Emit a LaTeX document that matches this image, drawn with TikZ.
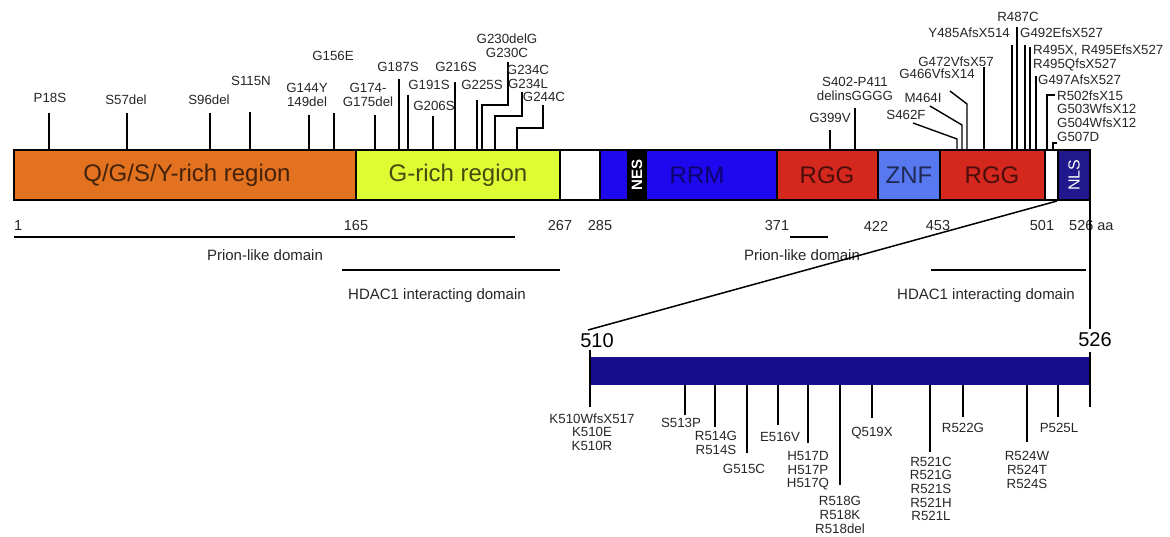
\documentclass[tikz,border=0pt]{standalone}
\usepackage{fontspec}
\setmainfont{Liberation Sans}
\usetikzlibrary{calc}

\definecolor{qgsyorange}{RGB}{226,114,32}
\definecolor{grichyellow}{RGB}{222,252,52}
\definecolor{rrmblue}{RGB}{30,8,238}
\definecolor{rggred}{RGB}{212,40,30}
\definecolor{znfblue}{RGB}{88,120,240}
\definecolor{nlsnavy}{RGB}{32,24,140}
\definecolor{zoomnavy}{RGB}{22,14,138}

\tikzset{
  mut/.style={font=\fontsize{13.3}{13.6}\selectfont, text=black!85, inner sep=0pt, align=center},
  mutline/.style={line width=1.4pt},
  regionlabel/.style={font=\fontsize{24}{26}\selectfont, inner sep=0pt},
  aanum/.style={font=\fontsize{14.5}{16}\selectfont, text=black!85, inner sep=0pt},
  domlabel/.style={font=\fontsize{15}{16}\selectfont, text=black!85, inner sep=0pt},
  domline/.style={line width=2.3pt},
}

\begin{document}
\begin{tikzpicture}[x=1pt,y=-1pt]
	\useasboundingbox (0,0) rectangle (1170,536);

	% main bar
	\fill[qgsyorange] (14,150) rectangle (356,200);
	\fill[grichyellow] (356,150) rectangle (560,200);
	\fill[white] (560,150) rectangle (600,200);
	\fill[rrmblue] (600,150) rectangle (777,200);
	\fill[black] (627,150) rectangle (647,200);
	\fill[rggred] (777,150) rectangle (878,200);
	\fill[znfblue] (878,150) rectangle (940,200);
	\fill[rggred] (940,150) rectangle (1045,200);
	\fill[white] (1045,150) rectangle (1058,200);
	\fill[nlsnavy] (1058,150) rectangle (1090,200);
	\foreach \bx in {356,560,600,777,878,940,1045,1058}
		\draw[line width=1.6pt] (\bx,150) -- (\bx,200);
	\draw[line width=2.6pt] (14,150) rectangle (1090,200);

	\node[regionlabel, text=qgsyorange!30!black] (qgsy) at (187,175) {Q/G/S/Y-rich region};
	\node[regionlabel, text=grichyellow!30!black] (grich) at (458,175) {G-rich region};
	\node[rotate=90, text=white, font=\fontsize{15}{16}\selectfont\bfseries, inner sep=0pt] (nes) at (637,175) {NES};
	\node[regionlabel, text=rrmblue!45!black] (rrm) at (697,175) {RRM};
	\node[regionlabel, text=rggred!35!black] (rgg1) at (827,175) {RGG};
	\node[regionlabel, text=znfblue!35!black] (znf) at (909,175) {ZNF};
	\node[regionlabel, text=rggred!35!black] (rgg2) at (992,175) {RGG};
	\node[rotate=90, text=white, font=\fontsize{16}{17}\selectfont, inner sep=0pt] (nls) at (1074,175) {NLS};

	% residue numbers
	\node[aanum, anchor=west] (n1) at (14,226) {1};
	\node[aanum] (n165) at (356,226) {165};
	\node[aanum] (n267) at (560,226) {267};
	\node[aanum] (n285) at (600,226) {285};
	\node[aanum] (n371) at (777,226) {371};
	\node[aanum] (n422) at (876,226) {422};
	\node[aanum] (n453) at (938,226) {453};
	\node[aanum] (n501) at (1042,226) {501};
	\node[aanum, anchor=west] (n526) at (1069,226) {526 aa};

	% domains
	\draw[domline] (14,237) -- (515,237);
	\node[domlabel] (prion1) at (265,255) {Prion-like domain};
	\draw[domline] (342,270) -- (560,270);
	\node[domlabel] (hdac1) at (437,296) {HDAC1 interacting domain};
	\draw[domline] (790,237) -- (828,237);
	\node[domlabel] (prion2) at (802,255) {Prion-like domain};
	\draw[domline] (931,270) -- (1086,270);
	\node[domlabel] (hdac2) at (986,296) {HDAC1 interacting domain};

	% zoom on the NLS
	\coordinate (zoomL) at (588,330);
	\coordinate (zoomR) at (1090,329);
	\draw[line width=1.5pt] (1057,201) -- (zoomL);
	\draw[line width=1.5pt] (1090,200) -- (zoomR);
	\fill[zoomnavy] (590,357) rectangle (1090,385);
	\node[font=\fontsize{20}{22}\selectfont, inner sep=0pt] (z510) at (597,341) {510};
	\node[font=\fontsize{20}{22}\selectfont, inner sep=0pt] (z526) at (1095,340) {526};
	\draw[mutline] (590,350) -- (590,407);
	\draw[mutline] (1090,352) -- (1090,407);

	% mutations, N-terminal half
	\node[mut] (p18s) at (50,98) {P18S};
	\draw[mutline] (49,150) -- (49,113);
	\node[mut] (s57del) at (126,100) {S57del};
	\draw[mutline] (127,150) -- (127,113);
	\node[mut] (s96del) at (209,100) {S96del};
	\draw[mutline] (210,150) -- (210,113);
	\node[mut] (s115n) at (251,81) {S115N};
	\draw[mutline] (250,150) -- (250,112);
	\node[mut] (g144y) at (307,95) {G144Y\\149del};
	\draw[mutline] (309,150) -- (309,115);
	\node[mut] (g156e) at (333,56) {G156E};
	\draw[mutline] (334,150) -- (334,113);
	\node[mut] (g174) at (368,95) {G174-\\G175del};
	\draw[mutline] (375,150) -- (375,115);
	\node[mut] (g187s) at (398,67) {G187S};
	\draw[mutline] (399,150) -- (399,79);
	\node[mut] (g191s) at (429,85) {G191S};
	\draw[mutline] (408,150) -- (408,95);
	\node[mut] (g206s) at (434,106) {G206S};
	\draw[mutline] (433,150) -- (433,116);
	\node[mut] (g216s) at (456,67) {G216S};
	\draw[mutline] (455,150) -- (455,82);
	\node[mut] (g225s) at (482,85) {G225S};
	\draw[mutline] (477,150) -- (477,100);
	\node[mut] (g230) at (507,46) {G230delG\\G230C};
	\draw[mutline] (482,150) -- (482,105) -- (508,105) -- (508,62);
	\node[mut] (g234) at (528,77) {G234C\\G234L};
	\draw[mutline] (495,150) -- (495,116) -- (522,116) -- (522,92);
	\node[mut] (g244c) at (544,97) {G244C};
	\draw[mutline] (517,150) -- (517,128) -- (543,128) -- (543,105);

	% mutations, C-terminal half
	\node[mut] (g399v) at (830,118) {G399V};
	\draw[mutline] (830,150) -- (830,130);
	\node[mut] (s402) at (855,89) {S402-P411\\delinsGGGG};
	\draw[mutline] (855,150) -- (855,108);
	\node[mut] (s462f) at (906,115) {S462F};
	\draw[mutline] (957,150) -- (957,139) -- (913,123);
	\node[mut] (m464i) at (923,98) {M464I};
	\draw[mutline] (962,150) -- (962,125) -- (930,106);
	\node[mut] (g466) at (937,74) {G466VfsX14};
	\draw[mutline] (967,150) -- (967,104) -- (950,91);
	\node[mut] (g472) at (956,62) {G472VfsX57};
	\draw[mutline] (984,150) -- (984,67);
	\node[mut, anchor=east] (y485) at (1010,33) {Y485AfsX514};
	\draw[mutline] (1012,150) -- (1012,45);
	\node[mut] (r487c) at (1018,17) {R487C};
	\draw[mutline] (1017,150) -- (1017,27);
	\node[mut, anchor=west] (g492) at (1020,33) {G492EfsX527};
	\draw[mutline] (1025,150) -- (1025,45);
	\node[mut, anchor=west, align=left] (r495) at (1033,58) {R495X, R495EfsX527\\R495QfsX527};
	\draw[mutline] (1030,150) -- (1030,47);
	\node[mut, anchor=west] (g497) at (1038,80) {G497AfsX527};
	\draw[mutline] (1036,150) -- (1036,76);
	\node[mut, anchor=west, align=left] (r502) at (1057,109) {R502fsX15\\G503WfsX12\\G504WfsX12};
	\draw[mutline] (1047,150) -- (1047,95) -- (1055,95);
	\node[mut, anchor=west] (g507d) at (1057,137) {G507D};
	\draw[mutline] (1053,150) -- (1053,143) -- (1057,143);

	% mutations in the NLS
	\node[mut] (k510) at (592,432) {K510WfsX517\\K510E\\K510R};
	\node[mut] (s513p) at (681,423) {S513P};
	\draw[mutline] (685,385) -- (685,415);
	\node[mut] (r514) at (716,443) {R514G\\R514S};
	\draw[mutline] (715,385) -- (715,427);
	\node[mut] (g515c) at (744,469) {G515C};
	\draw[mutline] (747,385) -- (747,453);
	\node[mut] (e516v) at (780,437) {E516V};
	\draw[mutline] (778,385) -- (778,425);
	\node[mut] (h517) at (808,471) {H517D\\H517P\\H517Q};
	\draw[mutline] (808,385) -- (808,443);
	\node[mut] (r518) at (840,515) {R518G\\R518K\\R518del};
	\draw[mutline] (840,385) -- (840,485);
	\node[mut] (q519x) at (872,433) {Q519X};
	\draw[mutline] (872,385) -- (872,418);
	\node[mut] (r521) at (931,489) {R521C\\R521G\\R521S\\R521H\\R521L};
	\draw[mutline] (930,385) -- (930,452);
	\node[mut] (r522g) at (963,428) {R522G};
	\draw[mutline] (963,385) -- (963,417);
	\node[mut] (r524) at (1027,470) {R524W\\R524T\\R524S};
	\draw[mutline] (1027,385) -- (1027,442);
	\node[mut] (p525l) at (1059,428) {P525L};
	\draw[mutline] (1058,385) -- (1058,417);
\end{tikzpicture}
\end{document}
